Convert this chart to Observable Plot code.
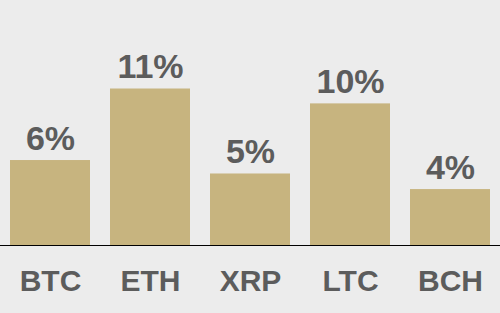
<!DOCTYPE html>
<html>
<head>
<meta charset="utf-8">
<script src="https://cdn.jsdelivr.net/npm/d3@7"></script>
<script src="https://cdn.jsdelivr.net/npm/@observablehq/plot@0.6"></script>
<style>
  html, body { margin: 0; padding: 0; background: #ececec; }
</style>
</head>
<body>
<div id="chart"></div>
<script>
const coins = ["BTC", "ETH", "XRP", "LTC", "BCH"];
const shares = [6.0, 11.05, 5.05, 10.0, 3.95];

const data = coins.map((c, i) => ({coin: c, share: shares[i]}));

const textColor = "#5c5c5c";
const barColor = "#c7b47f";

const chart = Plot.plot({
  width: 500,
  height: 313,
  marginLeft: 0,
  marginRight: 0,
  marginTop: 0,
  marginBottom: 68,
  style: {background: "#ececec", fontFamily: "Liberation Sans, Arial, sans-serif"},
  x: {domain: coins, paddingInner: 0.2, paddingOuter: 0.1, label: null},
  y: {domain: [0, 17.3], axis: null},
  marks: [
    Plot.barY(data, {x: "coin", y: "share", fill: barColor}),
    Plot.ruleY([0], {stroke: "#000", strokeWidth: 1.2}),
    Plot.text(data, {
      x: "coin", y: "share",
      text: d => Math.round(d.share) + "%",
      lineAnchor: "bottom", dy: -11,
      fontSize: 34, fontWeight: "bold", fill: textColor
    }),
    Plot.axisX({
      tickSize: 0, tickPadding: 24, fontSize: 30, fontWeight: "bold",
      color: textColor, label: null
    })
  ]
});
document.getElementById("chart").append(chart);
</script>
</body>
</html>
